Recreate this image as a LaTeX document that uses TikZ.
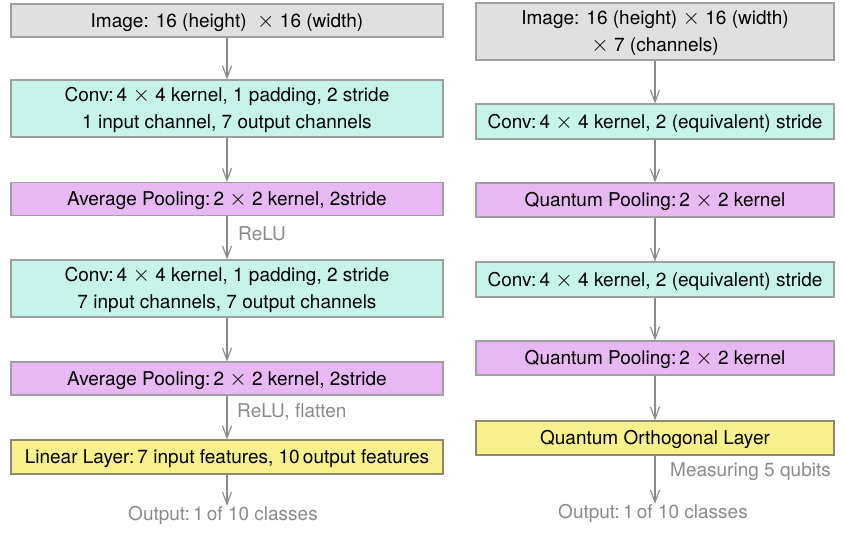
\documentclass[tikz,border=0pt]{standalone}
\usepackage{fontspec}
\usepackage{graphicx}
\setmainfont{TeX Gyre Heros}
\usetikzlibrary{arrows.meta}
\definecolor{gfill}{HTML}{E0E0E0}
\definecolor{gline}{HTML}{A0A0A0}
\definecolor{cfill}{HTML}{C6F4EA}
\definecolor{pfill}{HTML}{E8B8F4}
\definecolor{yfill}{HTML}{F8F08C}
\definecolor{yline}{HTML}{8E8A70}
\definecolor{agray}{HTML}{8A8A8A}
\newcommand{\tm}{\scalebox{1.3}{$\times$}}
\newcommand{\twol}[2]{\begin{tabular}[t]{@{}c@{}}#1\\#2\end{tabular}}
\tikzset{
  x=1pt,y=1pt,
  box/.style={draw=gline,line width=1.1pt,rectangle,inner sep=0pt,
    font=\fontsize{19}{27}\selectfont,text height=13.6pt,text depth=0pt},
  two/.style={text depth=27pt},
  lbox/.style={box,minimum width=432pt},
  rbox/.style={box,minimum width=358pt},
  grayb/.style={fill=gfill},
  cyanb/.style={fill=cfill},
  pinkb/.style={fill=pfill},
  yelb/.style={fill=yfill,draw=yline},
  lab/.style={text=agray,font=\fontsize{19}{22}\selectfont,inner sep=0pt},
  conn/.style={draw=agray,line width=1.2pt,-{Straight Barb[length=12pt,width=9pt,line width=1.1pt]}},
}
\begin{document}
\begin{tikzpicture}
\useasboundingbox (0,0) rectangle (845,-540);
% left column
\node[lbox,grayb,minimum height=33pt] (img1) at (227,-20.5) {Image: 16 (height) \ \tm{} 16 (width)};
\node[lbox,cyanb,two,minimum height=57pt] (conv1) at (227,-108.5) {\twol{Conv:\,4 \tm{} 4 kernel, 1 padding, 2 stride}{1 input channel, 7 output channels}};
\node[lbox,pinkb,minimum height=33pt] (pool1) at (227,-199) {Average Pooling:\,2 \tm{} 2 kernel, 2stride};
\node[lbox,cyanb,two,minimum height=57pt] (conv2) at (227,-288.5) {\twol{Conv:\,4 \tm{} 4 kernel, 1 padding, 2 stride}{7 input channels, 7 output channels}};
\node[lbox,pinkb,minimum height=33pt] (pool2) at (227,-378.5) {Average Pooling:\,2 \tm{} 2 kernel, 2stride};
\node[lbox,yelb,minimum height=34pt] (lin) at (227,-457) {Linear Layer:\,7 input features, 10\,output features};
\node[lab] (out1) at (223,-515) {Output:\,1\,of 10 classes};
\node[lab,anchor=west] (relu1) at (238,-234) {ReLU};
\node[lab,anchor=west] (relu2) at (237,-412) {ReLU, flatten};
\draw[conn] (img1) -- (conv1);
\draw[conn] (conv1) -- (pool1);
\draw[conn] (pool1) -- (conv2);
\draw[conn] (conv2) -- (pool2);
\draw[conn] (pool2) -- (lin);
\draw[conn] (lin.south) -- (lin.south |- out1.north);
% right column
\node[rbox,grayb,two,minimum height=57pt] (img2) at (655,-31.5) {\twol{Image: 16 (height) \tm{} 16 (width)}{\tm{} 7 (channels)}};
\node[rbox,cyanb,minimum height=35pt] (conv3) at (655,-121.5) {Conv:\,4 \tm{} 4 kernel, 2 (equivalent) stride};
\node[rbox,pinkb,minimum height=34pt] (qp1) at (655,-200) {Quantum Pooling:\,2 \tm{} 2 kernel};
\node[rbox,cyanb,minimum height=35pt] (conv4) at (655,-279.5) {Conv:\,4 \tm{} 4 kernel, 2 (equivalent) stride};
\node[rbox,pinkb,minimum height=34pt] (qp2) at (655,-358) {Quantum Pooling:\,2 \tm{} 2 kernel};
\node[rbox,yelb,minimum height=34pt] (qol) at (655,-438) {Quantum Orthogonal Layer};
\node[lab] (out2) at (653,-513) {Output:\,1\,of 10 classes};
\node[lab,anchor=west] (meas) at (670,-472) {Measuring 5 qubits};
\draw[conn] (img2) -- (conv3);
\draw[conn] (conv3) -- (qp1);
\draw[conn] (qp1) -- (conv4);
\draw[conn] (conv4) -- (qp2);
\draw[conn] (qp2) -- (qol);
\draw[conn] (qol.south) -- (qol.south |- out2.north);
\end{tikzpicture}
\end{document}
